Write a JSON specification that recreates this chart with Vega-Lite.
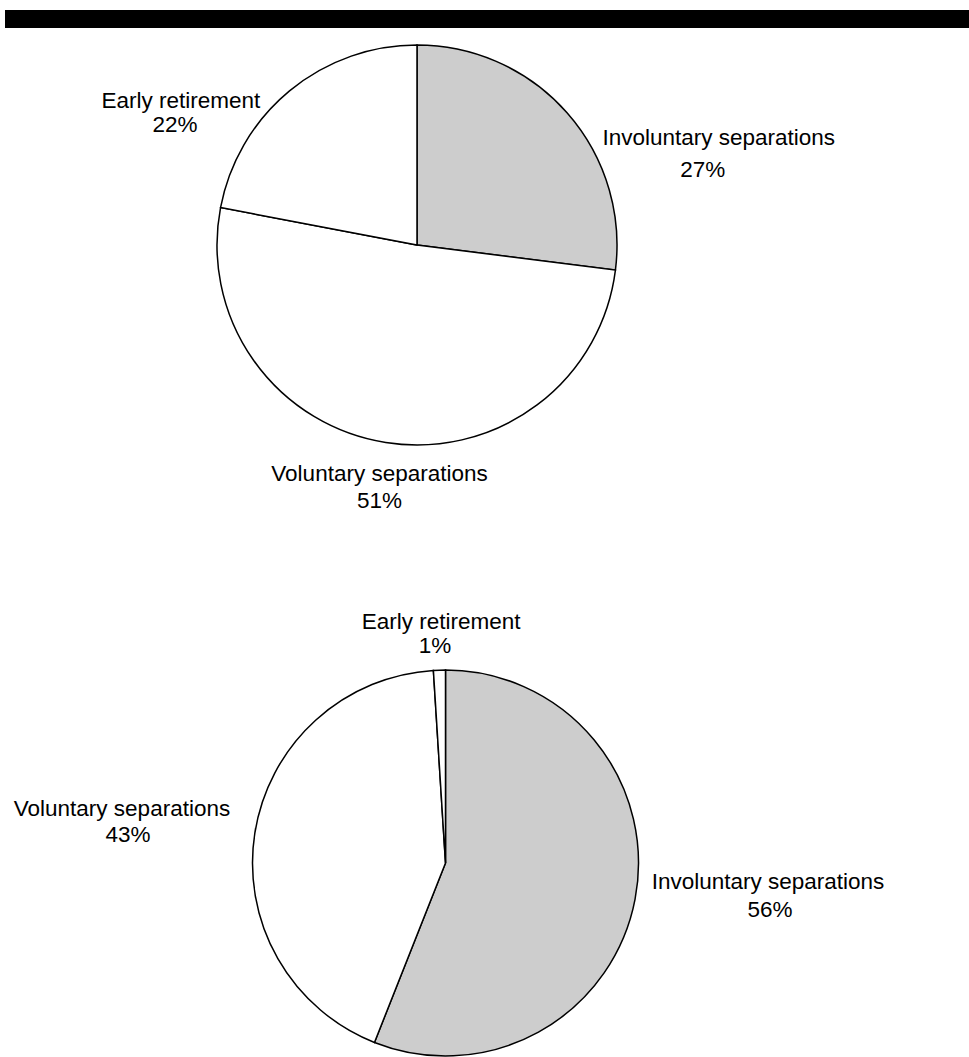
{
  "$schema": "https://vega.github.io/schema/vega-lite/v6.json",
  "padding": {"left": 5, "top": 5, "right": 0, "bottom": 0},
  "background": "white",
  "bounds": "flush",
  "spacing": 17,
  "config": {
    "view": {"stroke": null},
    "text": {"font": "Liberation Sans", "fontSize": 22.5, "color": "black"}
  },
  "vconcat": [
    {
      "width": 964,
      "height": 18,
      "view": {"fill": "black", "stroke": null},
      "data": {"values": []},
      "mark": {"type": "rect"},
      "encoding": {}
    },
    {
      "bounds": "flush",
      "spacing": 225,
      "vconcat": [
        {
          "width": 824,
          "height": 400,
          "data": {"values": [
            {"category": "Involuntary separations", "value": 27, "order": 1, "pct": "27%"},
            {"category": "Voluntary separations", "value": 51, "order": 2, "pct": "51%"},
            {"category": "Early retirement", "value": 22, "order": 3, "pct": "22%"}
          ]},
          "encoding": {
            "theta": {"field": "value", "type": "quantitative", "stack": true},
            "order": {"field": "order", "type": "quantitative"},
            "detail": {"field": "category", "type": "nominal"}
          },
          "layer": [
            {
              "mark": {"type": "arc", "stroke": "black", "strokeWidth": 1.5},
              "encoding": {
                "fill": {"field": "category", "type": "nominal", "legend": null,
                  "scale": {"domain": ["Involuntary separations", "Voluntary separations", "Early retirement"], "range": ["#cdcdcd", "#ffffff", "#ffffff"]}}
              }
            },
            {
              "mark": {"type": "text", "align": "center", "baseline": "alphabetic", "dx": 106.7, "dy": 71.9},
              "encoding": {"radius": {"value": 260},
                "text": {"condition": {"test": "datum.category === 'Involuntary separations'", "field": "category", "type": "nominal"}, "value": ""}}
            },
            {
              "mark": {"type": "text", "align": "center", "baseline": "alphabetic", "dx": 90.7, "dy": 103.9},
              "encoding": {"radius": {"value": 260},
                "text": {"condition": {"test": "datum.category === 'Involuntary separations'", "field": "pct", "type": "nominal"}, "value": ""}}
            },
            {
              "mark": {"type": "text", "align": "center", "baseline": "alphabetic", "dx": 3.2, "dy": -20.8},
              "encoding": {"radius": {"value": 260},
                "text": {"condition": {"test": "datum.category === 'Voluntary separations'", "field": "category", "type": "nominal"}, "value": ""}}
            },
            {
              "mark": {"type": "text", "align": "center", "baseline": "alphabetic", "dx": 3.2, "dy": 6.2},
              "encoding": {"radius": {"value": 260},
                "text": {"condition": {"test": "datum.category === 'Voluntary separations'", "field": "pct", "type": "nominal"}, "value": ""}}
            },
            {
              "mark": {"type": "text", "align": "center", "baseline": "alphabetic", "dx": -70.3, "dy": 63.3},
              "encoding": {"radius": {"value": 260},
                "text": {"condition": {"test": "datum.category === 'Early retirement'", "field": "category", "type": "nominal"}, "value": ""}}
            },
            {
              "mark": {"type": "text", "align": "center", "baseline": "alphabetic", "dx": -76.3, "dy": 87.3},
              "encoding": {"radius": {"value": 260},
                "text": {"condition": {"test": "datum.category === 'Early retirement'", "field": "pct", "type": "nominal"}, "value": ""}}
            }
          ]
        },
        {
          "width": 881,
          "height": 386,
          "data": {"values": [
            {"category": "Involuntary separations", "value": 56, "order": 1, "pct": "56%"},
            {"category": "Voluntary separations", "value": 43, "order": 2, "pct": "43%"},
            {"category": "Early retirement", "value": 1, "order": 3, "pct": "1%"}
          ]},
          "encoding": {
            "theta": {"field": "value", "type": "quantitative", "stack": true},
            "order": {"field": "order", "type": "quantitative"},
            "detail": {"field": "category", "type": "nominal"}
          },
          "layer": [
            {
              "mark": {"type": "arc", "stroke": "black", "strokeWidth": 1.5},
              "encoding": {
                "fill": {"field": "category", "type": "nominal", "legend": null,
                  "scale": {"domain": ["Involuntary separations", "Voluntary separations", "Early retirement"], "range": ["#cdcdcd", "#ffffff", "#ffffff"]}}
              }
            },
            {
              "mark": {"type": "text", "align": "center", "baseline": "alphabetic", "dx": 76.9, "dy": -20.9},
              "encoding": {"radius": {"value": 250},
                "text": {"condition": {"test": "datum.category === 'Involuntary separations'", "field": "category", "type": "nominal"}, "value": ""}}
            },
            {
              "mark": {"type": "text", "align": "center", "baseline": "alphabetic", "dx": 78.9, "dy": 7.1},
              "encoding": {"radius": {"value": 250},
                "text": {"condition": {"test": "datum.category === 'Involuntary separations'", "field": "pct", "type": "nominal"}, "value": ""}}
            },
            {
              "mark": {"type": "text", "align": "center", "baseline": "alphabetic", "dx": -76.6, "dy": -7.9},
              "encoding": {"radius": {"value": 250},
                "text": {"condition": {"test": "datum.category === 'Voluntary separations'", "field": "category", "type": "nominal"}, "value": ""}}
            },
            {
              "mark": {"type": "text", "align": "center", "baseline": "alphabetic", "dx": -70.6, "dy": 18.1},
              "encoding": {"radius": {"value": 250},
                "text": {"condition": {"test": "datum.category === 'Voluntary separations'", "field": "pct", "type": "nominal"}, "value": ""}}
            },
            {
              "mark": {"type": "text", "align": "center", "baseline": "alphabetic", "dx": 3.4, "dy": 15.9},
              "encoding": {"radius": {"value": 250},
                "text": {"condition": {"test": "datum.category === 'Early retirement'", "field": "category", "type": "nominal"}, "value": ""}}
            },
            {
              "mark": {"type": "text", "align": "center", "baseline": "alphabetic", "dx": -2.6, "dy": 39.9},
              "encoding": {"radius": {"value": 250},
                "text": {"condition": {"test": "datum.category === 'Early retirement'", "field": "pct", "type": "nominal"}, "value": ""}}
            }
          ]
        }
      ]
    }
  ]
}
